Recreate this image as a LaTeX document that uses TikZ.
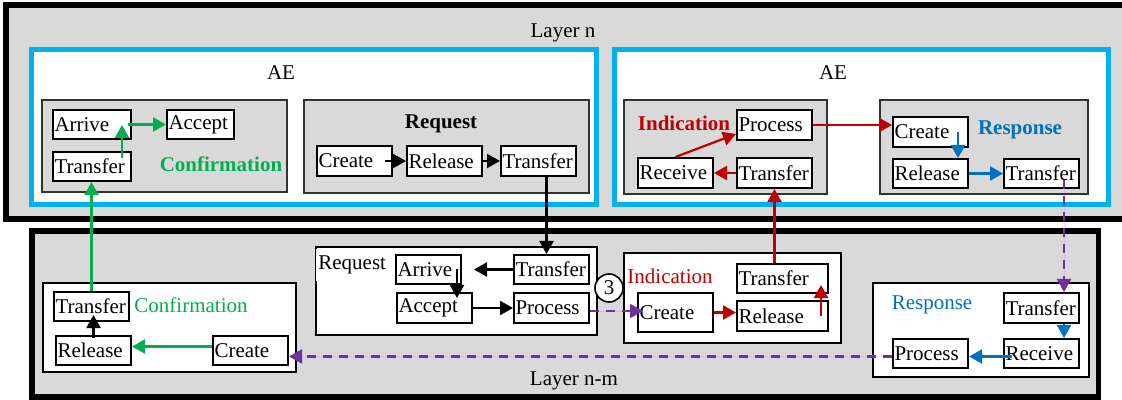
\documentclass[tikz,border=0pt]{standalone}
\usepackage{fontspec}
\setmainfont{Liberation Serif}
\usepackage{xcolor}
\usepackage{tikz}
\usetikzlibrary{arrows.meta, positioning}
\definecolor{layerGray}{HTML}{D9D9D9}
\definecolor{aeBlue}{HTML}{00B0F0}
\definecolor{confGreen}{HTML}{00B050}
\definecolor{indRed}{HTML}{C00000}
\definecolor{respBlue}{HTML}{0070C0}
\definecolor{peerPurple}{HTML}{7030A0}

\begin{document}
\begin{tikzpicture}[x=0.5pt, y=-0.5pt, font=\fontsize{10.5pt}{12pt}\selectfont,
    layer/.style={draw=black, fill=layerGray, line width=3pt},
    aebox/.style={draw=aeBlue, fill=white, line width=2.5pt},
    grp/.style={draw=black!80, fill=layerGray, line width=0.8pt},
    peer/.style={draw=black, fill=white, line width=1pt},
    fn/.style={draw=black, line width=1pt, fill=white, anchor=north west,
        inner xsep=0.75pt, inner ysep=0pt, text width=36pt,
        minimum height=14.5pt, align=left},
    tip/.style={-{Triangle[length=6.5pt,width=7pt]}, line width=1.1pt},
    garrow/.style={tip, draw=confGreen, fill=confGreen},
    barrow/.style={tip, draw=black},
    rarrow/.style={tip, draw=indRed, fill=indRed},
    sarrow/.style={tip, draw=respBlue, fill=respBlue},
    parrow/.style={tip, draw=peerPurple, fill=peerPurple, dash pattern=on 4.5pt off 3.5pt}]

    \useasboundingbox (0,0) rectangle (1122,400);
    \fill[white] (0,0) rectangle (1122,400);

    % layers and entities
    \draw[layer] (5.5,5.5) rectangle (1135,219.5);
    \draw[layer, line width=2.75pt] (32,231) rectangle (1098.5,397);
    \draw[aebox] (31,50) rectangle (596,205);
    \draw[aebox] (614,50) rectangle (1108,205);

    \draw[grp] (42,100) rectangle (287,192);
    \draw[grp] (304,100) rectangle (589,193);
    \draw[grp] (624,100) rectangle (827,194);
    \draw[grp] (880,100) rectangle (1088,194);

    \draw[peer] (43,283) rectangle (296,372);
    \draw[peer] (316,247) rectangle (597,335);
    \draw[peer] (624,253) rectangle (841,343);
    \draw[peer] (873,283) rectangle (1089,377);

    % titles
    \node (layerN) at (563,33) {Layer n};
    \node (layerNM) at (574,381) {Layer n-m};
    \node (aeLeft) at (281,73) {AE};
    \node (aeRight) at (833,73) {AE};
    \node[text=confGreen, font=\fontsize{10.5pt}{12pt}\selectfont\bfseries] (confTop) at (221,164) {Confirmation};
    \node[font=\fontsize{10.5pt}{12pt}\selectfont\bfseries] (reqTop) at (441,124) {Request};
    \node[text=indRed, font=\fontsize{10.5pt}{12pt}\selectfont\bfseries] (indTop) at (684,123) {Indication};
    \node[text=respBlue, font=\fontsize{10.5pt}{12pt}\selectfont\bfseries] (respTop) at (1020,130) {Response};
    \node[text=confGreen] (confLow) at (191,305) {Confirmation};
    \node[fill=white, anchor=west, inner xsep=1pt] (reqLow) at (316,265) {Request};
    \node[text=indRed] (indLow) at (670,276) {Indication};
    \node[text=respBlue] (respLow) at (932,305) {Response};

    % upper layer primitives
    \node[fn, text width=37.5pt] (arriveA) at (52,109) {Arrive};
    \node[fn, text width=32pt] (acceptA) at (166,109) {Accept};
    \node[fn, text width=37.5pt] (transferA) at (52,151) {Transfer};

    \node[fn, minimum height=15pt] (createR) at (316,145) {Create};
    \node[fn, minimum height=15pt] (releaseR) at (406,145) {Release};
    \node[fn, minimum height=15pt] (transferR) at (500,145) {Transfer};

    \node[fn, minimum height=15pt] (processI) at (736,109) {Process};
    \node[fn, minimum height=15pt] (receiveI) at (637,157) {Receive};
    \node[fn, minimum height=15pt] (transferI) at (736,157) {Transfer};

    \node[fn, minimum height=15pt] (createS) at (892,116) {Create};
    \node[fn] (releaseS) at (892,158) {Release};
    \node[fn] (transferS) at (1003,158) {Transfer};

    % lower layer primitives
    \node[fn] (transferC) at (53,291) {Transfer};
    \node[fn] (releaseC) at (55,335) {Release};
    \node[fn] (createC) at (212,335) {Create};

    \node[fn, text width=31pt] (arriveQ) at (395,254) {Arrive};
    \node[fn] (transferQ) at (513,254) {Transfer};
    \node[fn, minimum height=15pt] (acceptQ) at (396,292) {Accept};
    \node[fn, minimum height=15pt] (processQ) at (513,292) {Process};

    \node[fn, minimum height=19.5pt] (createN) at (637,292) {Create\\[4pt]};
    \node[fn, text width=44pt] (transferN) at (736,263) {Transfer};
    \node[fn, text width=44pt, minimum height=15pt] (releaseN) at (736,300) {Release};

    \node[fn, minimum height=15pt] (transferP) at (1003,292) {Transfer};
    \node[fn] (processP) at (892,338) {Process};
    \node[fn] (receiveP) at (1003,338) {Receive};

    \node[circle, draw, line width=0.8pt, fill=white, inner sep=0pt, minimum size=14pt] (num3) at (609,288) {3};

    % confirmation path
    \draw[garrow] ([xshift=-5pt,yshift=-3.5pt]transferA.north east) -- ([xshift=-5pt,yshift=7.5pt]arriveA.south east);
    \draw[garrow] ([xshift=-2pt]arriveA.east) -- (acceptA.west);
    \draw[garrow] (transferC.north) -- (transferC.north |- transferA.south);
    \draw[garrow] ([yshift=2pt]createC.west) -- ([yshift=2pt]createC.west -| releaseC.east);
    \draw[barrow] ([yshift=-1.5pt]releaseC.north) -- ([yshift=3.5pt]releaseC.north |- transferC.south);

    % request path
    \draw[barrow] ([xshift=-4pt]createR.east) -- (releaseR.west);
    \draw[barrow] (releaseR.east) -- (transferR.west);
    \draw[barrow] ([xshift=4pt]transferR.south) -- ([xshift=4pt]transferR.south |- transferQ.north);
    \draw[barrow, shorten >=6pt] (transferQ.west) -- (arriveQ.east);
    \draw[barrow] ([xshift=-2.5pt]arriveQ.east) -- ([xshift=-2.5pt,yshift=-3pt]arriveQ.east |- acceptQ.north);
    \draw[barrow] (acceptQ.east) -- (processQ.west);
    \draw[parrow] ([yshift=-1.5pt]processQ.east) -- ([xshift=3pt,yshift=-1.5pt]processQ.east -| createN.west);

    % indication path
    \draw[rarrow] (createN.east) -- (createN.east -| releaseN.west);
    \draw[rarrow] ([xshift=-4pt]releaseN.east) -- ([xshift=-4pt,yshift=4.5pt]transferN.south east);
    \draw[rarrow] (transferN.north -| transferI.south) -- (transferI.south);
    \draw[rarrow] (transferI.west) -- (receiveI.east);
    \draw[rarrow] (receiveI.north) -- ([yshift=3.5pt]processI.south west);
    \draw[rarrow] (processI.east) -- (processI.east -| createS.west);

    % response path
    \draw[sarrow] ([xshift=-5.5pt]createS.east) -- ([xshift=-5.5pt]createS.east |- releaseS.north);
    \draw[sarrow] (releaseS.east) -- (transferS.west);
    \draw[parrow] ([xshift=-8pt,yshift=4.5pt]transferS.south east) -- ([xshift=-8pt]transferP.north east);
    \draw[sarrow] ([xshift=-8pt]transferP.south east) -- ([xshift=-8pt]receiveP.north east);
    \draw[sarrow] ([xshift=4.5pt,yshift=-1.5pt]receiveP.west) -- ([yshift=-1.5pt]processP.east);
    \draw[parrow] ([yshift=-1.5pt]processP.west) -- ([yshift=-1.5pt]processP.west -| createC.east);
\end{tikzpicture}
\end{document}
